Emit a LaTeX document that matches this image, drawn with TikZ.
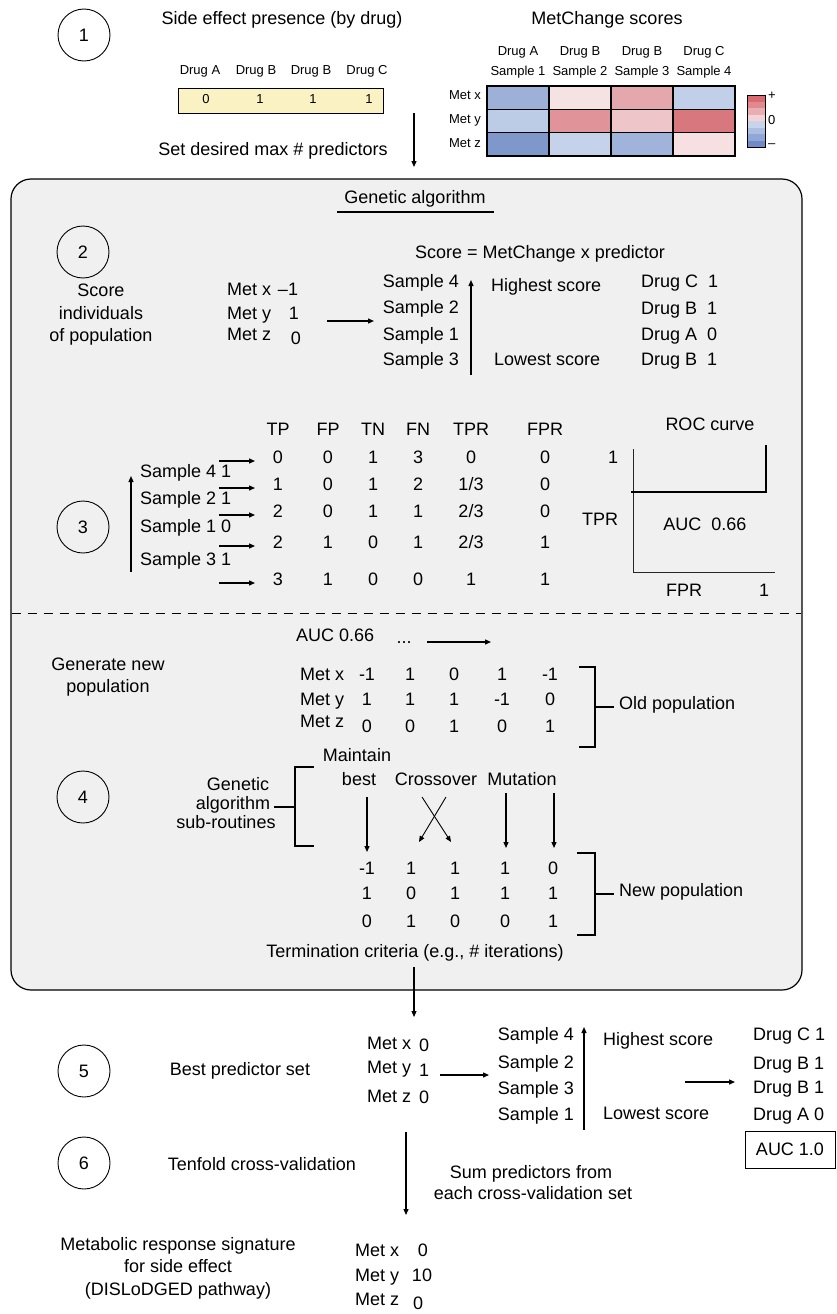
\documentclass[tikz,border=0pt]{standalone}
\usepackage{fontspec}
\setmainfont{Liberation Sans}
\usetikzlibrary{arrows.meta}
\definecolor{boxgray}{HTML}{F0F0F0}
\definecolor{yel}{HTML}{FBF2C3}
\definecolor{hxa}{HTML}{9CB0D8}\definecolor{hxb}{HTML}{F5E2E3}\definecolor{hxc}{HTML}{E4A7AC}\definecolor{hxd}{HTML}{C2CFE8}
\definecolor{hya}{HTML}{BCCBE6}\definecolor{hyb}{HTML}{E09399}\definecolor{hyc}{HTML}{EEC5C8}\definecolor{hyd}{HTML}{D9777E}
\definecolor{hza}{HTML}{7E98CC}\definecolor{hzb}{HTML}{C6D2EA}\definecolor{hzc}{HTML}{A0B3DA}\definecolor{hzd}{HTML}{F6E0E2}
\definecolor{cb1}{HTML}{D96A72}\definecolor{cb2}{HTML}{E08A90}\definecolor{cb3}{HTML}{E9AEB2}\definecolor{cb4}{HTML}{F3D3D6}
\definecolor{cb5}{HTML}{C9D4EA}\definecolor{cb6}{HTML}{ABBDE0}\definecolor{cb7}{HTML}{90A7D6}\definecolor{cb8}{HTML}{6F8AC6}
\tikzset{
  T/.style={font=\fontsize{18}{21}\selectfont, inner sep=0pt, anchor=mid},
  TW/.style={T, anchor=mid west},
  TE/.style={T, anchor=mid east},
  S/.style={font=\fontsize{13}{15}\selectfont, inner sep=0pt, anchor=mid},
  SE/.style={S, anchor=mid east},
  circ/.style={draw, circle, minimum size=52pt, inner sep=0pt, line width=0.9pt, font=\fontsize{18}{21}\selectfont},
  arr/.style={-{Triangle[length=6pt,width=5pt]}, line width=1.3pt},
  brk/.style={line width=1.5pt},
}
\begin{document}
\begin{tikzpicture}[x=1pt,y=-1pt]
\useasboundingbox (0,0) rectangle (837,1314);
% ---------------- section 1
\node[circ] (c1) at (84,35) {1};
\node[T] (sep) at (282,22) {Side effect presence (by drug)};
\node[S] (da) at (200,72) {Drug A};
\node[S] (db) at (256,72) {Drug B};
\node[S] (db2) at (311,72) {Drug B};
\node[S] (dc) at (367,72) {Drug C};
\node[draw, fill=yel, line width=0.9pt, minimum width=205pt, minimum height=25pt, inner sep=0pt] (ybox) at (280.5,100.5) {};
\node[S] (y1) at (206,101) {0};
\node[S] (y2) at (260,101) {1};
\node[S] (y3) at (313,101) {1};
\node[S] (y4) at (369,101) {1};
\coordinate (a1s) at (414,113);
\coordinate (a1e) at (414,167);
\draw[arr] (a1s) -- (a1e);
\node[T] (setmax) at (273,153) {Set desired max \# predictors};
\node[T] (mcs) at (607,22) {MetChange scores};
\foreach \x/\d/\s [count=\i] in {518/Drug A/Sample 1,580/Drug B/Sample 2,642/Drug B/Sample 3,704/Drug C/Sample 4}{
  \node[S] (hd\i) at (\x,53) {\d};
  \node[S] (hs\i) at (\x,73) {\s};
}
% heatmap
\foreach \c [count=\i from 0] in {hxa,hxb,hxc,hxd}{\fill[\c] (487+62*\i,86) rectangle ++(62,23.3);}
\foreach \c [count=\i from 0] in {hya,hyb,hyc,hyd}{\fill[\c] (487+62*\i,109.3) rectangle ++(62,23.3);}
\foreach \c [count=\i from 0] in {hza,hzb,hzc,hzd}{\fill[\c] (487+62*\i,132.6) rectangle ++(62,23.4);}
\foreach \i in {0,...,4}{\draw[line width=1.3pt] (487+62*\i,86) -- (487+62*\i,156);}
\foreach \yy in {86,109.3,132.6,156}{\draw[line width=1.3pt] (486.35,\yy) -- (735.65,\yy);}
\node[SE] (mx) at (481,97) {Met x};
\node[SE] (my) at (481,121) {Met y};
\node[SE] (mz) at (481,145) {Met z};
% colour bar
\foreach \c [count=\i from 0] in {cb1,cb2,cb3,cb4,cb5,cb6,cb7,cb8}{\fill[\c] (747,95+6.5*\i) rectangle ++(18,6.5);}
\draw[line width=1pt] (747,95) rectangle (765,147);
\node[S, anchor=mid west] (cbp) at (768,97) {+};
\node[S, anchor=mid west] (cb0) at (768,122) {0};
\node[S, anchor=mid west] (cbm) at (768,145) {–};
% ---------------- main box
\draw[fill=boxgray, line width=1.2pt, rounded corners=20pt] (11,179) rectangle (802,990);
\node[T] (ga) at (415,201) {Genetic algorithm};
\coordinate (ul1) at (337,212);
\coordinate (ul2) at (494,212);
\draw[line width=1.2pt] (ul1) -- (ul2);
% section 2
\node[circ] (c2) at (83,252) {2};
\node[T] (scoreeq) at (540,256) {Score = MetChange x predictor};
\node[T] (s2a) at (101,294) {Score};
\node[T] (s2b) at (101,317) {individuals};
\node[T] (s2c) at (101,339) {of population};
\node[TW] (m2x) at (227,293) {Met x};
\node[TW] (m2y) at (227,317) {Met y};
\node[TW] (m2z) at (227,338) {Met z};
\node[T] (v2x) at (288,293) {–1};
\node[T] (v2y) at (294,317) {1};
\node[T] (v2z) at (296,342) {0};
\coordinate (a2s) at (327,321);
\coordinate (a2e) at (374,321);
\draw[arr] (a2s) -- (a2e);
\node[TE] (s24) at (459,285) {Sample 4};
\node[TE] (s22) at (459,311) {Sample 2};
\node[TE] (s21) at (459,338) {Sample 1};
\node[TE] (s23) at (459,363) {Sample 3};
\coordinate (u2s) at (471,375);
\coordinate (u2e) at (471,280);
\draw[arr] (u2s) -- (u2e);
\node[TW] (hi2) at (491,289) {Highest score};
\node[TW] (lo2) at (494,363) {Lowest score};
\node[TW] (d2a) at (641,285) {Drug C\ \ 1};
\node[TW] (d2b) at (641,312) {Drug B\ \ 1};
\node[TW] (d2c) at (641,338) {Drug A\ \ 0};
\node[TW] (d2d) at (641,363) {Drug B\ \ 1};
% section 3
\node[circ] (c3) at (83,527) {3};
\foreach \h/\x in {TP/278,FP/328,TN/373,FN/418,TPR/471,FPR/545}{\node[T] (h\h) at (\x,433) {\h};}
\foreach \a/\b/\c/\d/\e/\f/\yy [count=\r] in {0/0/1/3/0/0/461,1/0/1/2/1\slash 3/0/488,2/0/1/1/2\slash 3/0/515,2/1/0/1/2\slash 3/1/546,3/1/0/0/1/1/583}{
  \node[T] (r\r a) at (278,\yy) {\a};
  \node[T] (r\r b) at (328,\yy) {\b};
  \node[T] (r\r c) at (373,\yy) {\c};
  \node[T] (r\r d) at (418,\yy) {\d};
  \node[T] (r\r e) at (471,\yy) {\e};
  \node[T] (r\r f) at (545,\yy) {\f};
  \coordinate (ra\r) at (219,\yy);
  \coordinate (rb\r) at (255,\yy);
  \draw[arr] (ra\r) -- (rb\r);
}
\coordinate (u3s) at (131,572);
\coordinate (u3e) at (131,476);
\draw[arr, line width=1.2pt] (u3s) -- (u3e);
\node[TW] (s34) at (140,475) {Sample 4 1};
\node[TW] (s32) at (140,502) {Sample 2 1};
\node[TW] (s31) at (140,530) {Sample 1 0};
\node[TW] (s33) at (140,563) {Sample 3 1};
% ROC
\node[T] (roc) at (710,428) {ROC curve};
\node[T] (roc1) at (613,461) {1};
\node[T] (tpr) at (600,523) {TPR};
\node[T] (auc1) at (705,528) {AUC\ \ 0.66};
\node[T] (fpr) at (684,594) {FPR};
\node[T] (fpr1) at (764,594) {1};
\coordinate (ax1) at (633,449);
\coordinate (ax0) at (633,572);
\coordinate (ax2) at (775,572);
\draw[line width=1pt, black!85] (ax1) -- (ax0) -- (ax2);
\coordinate (rc1) at (631,492);
\coordinate (rc2) at (766,492);
\coordinate (rc3) at (766,445);
\draw[line width=1.8pt] (rc1) -- (rc2) -- (rc3);
\coordinate (dl1) at (11.6,613);
\coordinate (dl2) at (801.4,613);
\draw[line width=1pt, dash pattern=on 9pt off 7pt] (dl1) -- (dl2);
% section 4
\node[TW] (auc4) at (296,639) {AUC 0.66};
\node[T] (dots) at (404,641) {...};
\coordinate (a4s) at (427,642);
\coordinate (a4e) at (491,642);
\draw[arr] (a4s) -- (a4e);
\node[T] (gn1) at (108,668) {Generate new};
\node[T] (gn2) at (108,690) {population};
\node[TW] (o4x) at (300,678) {Met x};
\node[TW] (o4y) at (300,703) {Met y};
\node[TW] (o4z) at (300,725) {Met z};
\foreach \a/\b/\c/\d/\e/\yy [count=\r] in {-1/1/0/1/-1/678,1/1/1/-1/0/703,0/0/1/0/1/730}{
  \node[T] (o\r a) at (367,\yy) {\a};
  \node[T] (o\r b) at (410,\yy) {\b};
  \node[T] (o\r c) at (454,\yy) {\c};
  \node[T] (o\r d) at (502,\yy) {\d};
  \node[T] (o\r e) at (550,\yy) {\e};
}
\coordinate (ob1) at (579,667);
\coordinate (ob2) at (595,667);
\coordinate (ob3) at (595,747);
\coordinate (ob4) at (579,747);
\coordinate (obm) at (595,707);
\coordinate (obt) at (614,707);
\draw[brk] (ob1) -- (ob2) -- (ob3) -- (ob4);
\draw[brk] (obm) -- (obt);
\node[TW] (oldpop) at (619,707) {Old population};
\node[T] (mt1) at (357,759) {Maintain};
\node[T] (mt2) at (359,783) {best};
\node[T] (cross) at (436,783) {Crossover};
\node[T] (mut) at (522,783) {Mutation};
\coordinate (gb1) at (314,767);
\coordinate (gb2) at (295,767);
\coordinate (gb3) at (295,846);
\coordinate (gb4) at (314,846);
\coordinate (gbm) at (295,807);
\coordinate (gbt) at (274,807);
\draw[brk] (gb1) -- (gb2) -- (gb3) -- (gb4);
\draw[brk] (gbt) -- (gbm);
\node[T] (gs1) at (238,788) {Genetic};
\node[T] (gs2) at (233,807) {algorithm};
\node[T] (gs3) at (226,826) {sub-routines};
\node[circ] (c4) at (83,797) {4};
\coordinate (bb1) at (367,797); \coordinate (bb2) at (367,852);
\coordinate (mu1) at (506,793); \coordinate (mu2) at (506,848);
\coordinate (mu3) at (554,793); \coordinate (mu4) at (554,848);
\coordinate (cx1) at (422,797); \coordinate (cx2) at (451,842);
\coordinate (cx3) at (446,797); \coordinate (cx4) at (419,842);
\draw[arr] (bb1) -- (bb2);
\draw[arr] (mu1) -- (mu2);
\draw[arr] (mu3) -- (mu4);
\draw[arr, line width=0.9pt] (cx1) -- (cx2);
\draw[arr, line width=0.9pt] (cx3) -- (cx4);
\foreach \a/\b/\c/\d/\e/\yy [count=\r] in {-1/1/1/1/0/872,1/0/1/1/1/897,0/1/0/0/1/925}{
  \node[T] (n\r a) at (367,\yy) {\a};
  \node[T] (n\r b) at (411,\yy) {\b};
  \node[T] (n\r c) at (455,\yy) {\c};
  \node[T] (n\r d) at (505,\yy) {\d};
  \node[T] (n\r e) at (553,\yy) {\e};
}
\coordinate (nb1) at (577,853);
\coordinate (nb2) at (595,853);
\coordinate (nb3) at (595,935);
\coordinate (nb4) at (577,935);
\coordinate (nbm) at (595,894);
\coordinate (nbt) at (614,894);
\draw[brk] (nb1) -- (nb2) -- (nb3) -- (nb4);
\draw[brk] (nbm) -- (nbt);
\node[TW] (newpop) at (619,894) {New population};
\node[T] (term) at (415,955) {Termination criteria (e.g., \# iterations)};
\coordinate (t1) at (414,967);
\coordinate (t2) at (414,1017);
\draw[arr, line width=1.1pt] (t1) -- (t2);
% section 5
\node[circ] (c5) at (84,1071) {5};
\node[T] (bps) at (240,1073) {Best predictor set};
\node[TW] (b5x) at (367,1047) {Met x};
\node[TW] (b5y) at (367,1071) {Met y};
\node[TW] (b5z) at (367,1100) {Met z};
\node[T] (b5xv) at (424,1049) {0};
\node[T] (b5yv) at (424,1074) {1};
\node[T] (b5zv) at (424,1101) {0};
\coordinate (a5s) at (440,1075);
\coordinate (a5e) at (489,1075);
\draw[arr] (a5s) -- (a5e);
\node[TE] (s54) at (574,1038) {Sample 4};
\node[TE] (s52) at (574,1066) {Sample 2};
\node[TE] (s53) at (574,1092) {Sample 3};
\node[TE] (s51) at (574,1118) {Sample 1};
\coordinate (u5s) at (584,1130);
\coordinate (u5e) at (584,1027);
\draw[arr] (u5s) -- (u5e);
\node[TW] (hi5) at (603,1043) {Highest score};
\node[TW] (lo5) at (603,1117) {Lowest score};
\coordinate (a6s) at (685,1082);
\coordinate (a6e) at (735,1082);
\draw[arr] (a6s) -- (a6e);
\node[TW] (d5a) at (753,1038) {Drug C 1};
\node[TW] (d5b) at (753,1067) {Drug B 1};
\node[TW] (d5c) at (753,1091) {Drug B 1};
\node[TW] (d5d) at (753,1118) {Drug A 0};
\node[draw, line width=0.9pt, minimum width=90pt, minimum height=37pt, inner sep=0pt, font=\fontsize{18}{21}\selectfont] (auc5) at (790,1149.5) {AUC 1.0};
% section 6
\node[circ] (c6) at (84,1163) {6};
\node[T] (tenfold) at (262,1168) {Tenfold cross-validation};
\coordinate (a7s) at (406,1132);
\coordinate (a7e) at (406,1215);
\draw[arr] (a7s) -- (a7e);
\node[T] (sum1) at (531,1176) {Sum predictors from};
\node[T] (sum2) at (533,1197) {each cross-validation set};
\node[T] (mr1) at (178,1248) {Metabolic response signature};
\node[T] (mr2) at (178,1270) {for side effect};
\node[T] (mr3) at (178,1293) {(DISLoDGED pathway)};
\node[TW] (f6x) at (355,1254) {Met x};
\node[TW] (f6y) at (355,1279) {Met y};
\node[TW] (f6z) at (355,1303) {Met z};
\node[T] (f6xv) at (423,1254) {0};
\node[T] (f6yv) at (422,1279) {10};
\node[T] (f6zv) at (418,1307) {0};
\end{tikzpicture}
\end{document}
